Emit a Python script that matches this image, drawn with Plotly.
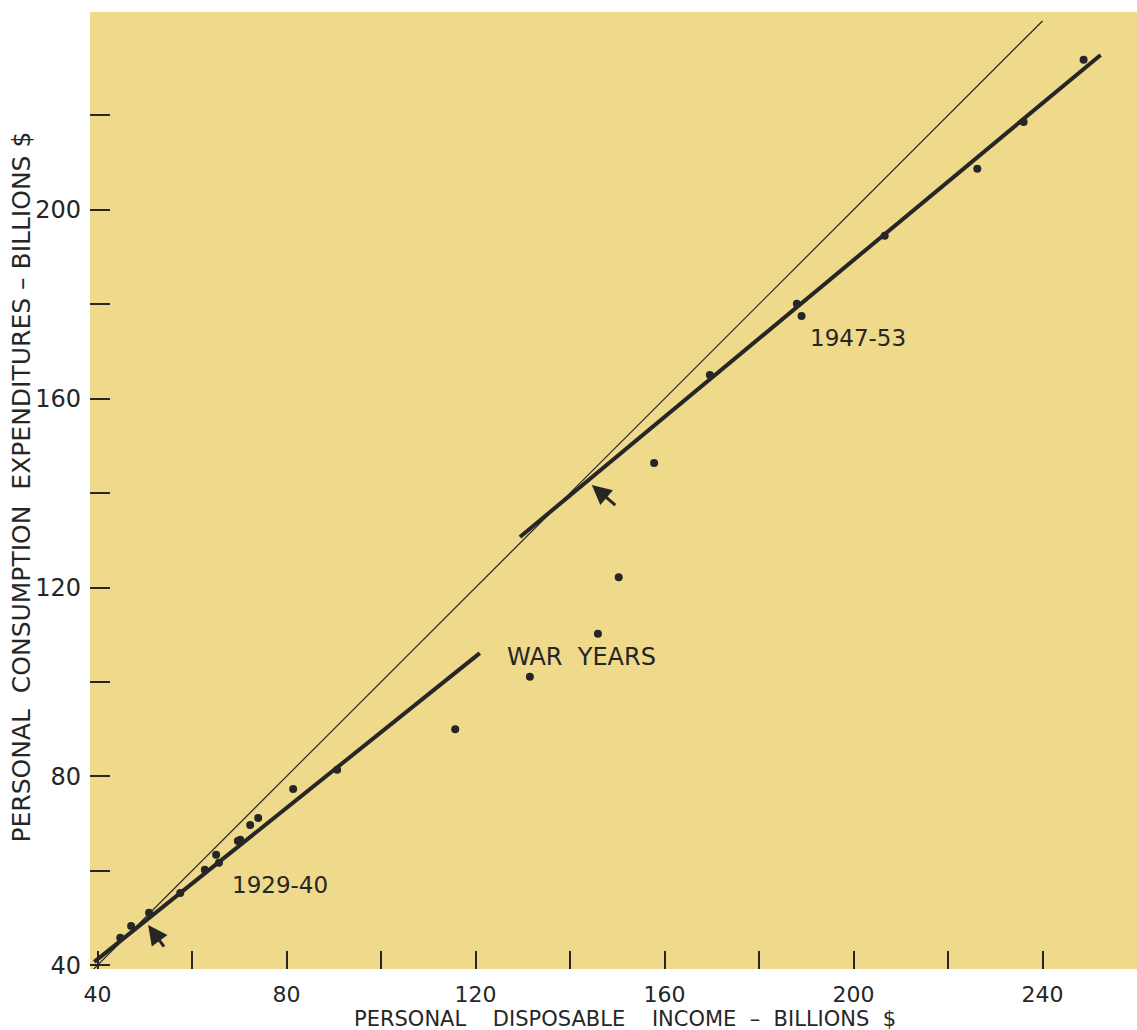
import plotly.graph_objects as go

# ---- data (billions $) ----
inc_1929_40 = [44.8, 47.1, 50.9, 57.5, 62.7, 65.1, 65.7, 69.7, 70.2, 72.3, 74.0, 81.4, 90.7]
con_1929_40 = [45.8, 48.3, 51.1, 55.3, 60.2, 63.4, 61.7, 66.3, 66.6, 69.7, 71.2, 77.3, 81.4]

inc_war = [115.7, 131.5, 145.9, 150.3, 157.8]
con_war = [90.0, 101.1, 110.2, 122.2, 146.4]

inc_1947_53 = [169.6, 188.0, 189.0, 206.6, 226.2, 236.0, 248.7]
con_1947_53 = [165.0, 180.1, 177.5, 194.5, 208.7, 218.6, 231.8]

# fitted lines
fit1_x = [39.3, 120.9]
fit1_y = [40.7, 106.1]
fit2_x = [129.4, 252.3]
fit2_y = [130.7, 232.8]
# 45-degree reference (consumption = income)
ref_x = [39.1, 240.0]
ref_y = [39.1, 240.0]

x_ticks = [40, 60, 80, 100, 120, 140, 160, 180, 200, 220, 240]
x_labels = ["40", "", "80", "", "120", "", "160", "", "200", "", "240"]
y_ticks = [40, 60, 80, 100, 120, 140, 160, 180, 200, 220]
y_labels = ["40", "", "80", "", "120", "", "160", "", "200", ""]

FONT = "DejaVu Sans"
INK = "#262626"
BG = "#EFD98B"
NB = "\u00a0"

fig = go.Figure()

fig.add_trace(go.Scatter(x=ref_x, y=ref_y, mode="lines",
                         line=dict(color=INK, width=1.2), hoverinfo="skip"))
fig.add_trace(go.Scatter(x=fit1_x, y=fit1_y, mode="lines",
                         line=dict(color=INK, width=4), hoverinfo="skip"))
fig.add_trace(go.Scatter(x=fit2_x, y=fit2_y, mode="lines",
                         line=dict(color=INK, width=4), hoverinfo="skip"))
for xs, ys in [(inc_1929_40, con_1929_40), (inc_war, con_war), (inc_1947_53, con_1947_53)]:
    fig.add_trace(go.Scatter(x=xs, y=ys, mode="markers",
                             marker=dict(color=INK, size=8), hoverinfo="skip"))

txt = dict(family=FONT, size=23, color=INK)
fig.add_annotation(x=78.6, y=57.0, text="1929-40", showarrow=False, font=txt)
fig.add_annotation(x=142.5, y=105.3, text="WAR" + NB * 2 + "YEARS", showarrow=False,
                   font=dict(family=FONT, size=24, color=INK))
fig.add_annotation(x=200.9, y=172.9, text="1947-53", showarrow=False, font=txt)

# arrows marking the intersections
for hx, hy, tx, ty in [(50.7, 48.5, 54.3, 43.6), (144.6, 141.7, 149.9, 137.2)]:
    fig.add_annotation(x=hx, y=hy, ax=tx, ay=ty, axref="x", ayref="y",
                       xref="x", yref="y", text="", showarrow=True,
                       arrowhead=2, arrowsize=1.3, arrowwidth=3, arrowcolor=INK)

# axis titles
xt = ("PERSONAL" + NB * 4 + "DISPOSABLE" + NB * 4 + "INCOME" + NB * 2 + "–"
      + NB * 2 + "BILLIONS" + NB * 2 + "$")
yt = ("PERSONAL" + NB * 2 + "CONSUMPTION" + NB * 2 + "EXPENDITURES" + NB + "–"
      + NB + "BILLIONS" + NB + "$")
fig.add_annotation(xref="paper", yref="paper", x=0.511, y=0, yanchor="middle",
                   yshift=-50, text=xt, showarrow=False,
                   font=dict(family=FONT, size=21, color=INK))
fig.add_annotation(xref="paper", yref="paper", x=-0.065, y=0.504, xanchor="center",
                   yanchor="middle", textangle=-90, text=yt, showarrow=False,
                   font=dict(family=FONT, size=25, color=INK))

fig.update_layout(
    width=1137, height=1030, autosize=False,
    margin=dict(l=90, r=0, t=12, b=61),
    paper_bgcolor="white", plot_bgcolor=BG,
    showlegend=False,
    font=dict(family=FONT, color=INK),
)
fig.update_xaxes(range=[38.4, 260], tickvals=x_ticks, ticktext=x_labels,
                 ticks="inside", ticklen=18, tickwidth=2, tickcolor=INK,
                 showgrid=False, zeroline=False, showline=False,
                 tickfont=dict(family=FONT, size=22, color=INK),
                 ticklabelstandoff=10, automargin=False)
fig.update_yaxes(range=[39.2, 241.9], tickvals=y_ticks, ticktext=y_labels,
                 ticks="inside", ticklen=20, tickwidth=2, tickcolor=INK,
                 showgrid=False, zeroline=False, showline=False,
                 tickfont=dict(family=FONT, size=24, color=INK),
                 ticklabelstandoff=8, automargin=False)

fig.write_html("out.html", config={"displayModeBar": False},
               post_script="document.body.style.margin='0';document.body.style.overflow='hidden';")
